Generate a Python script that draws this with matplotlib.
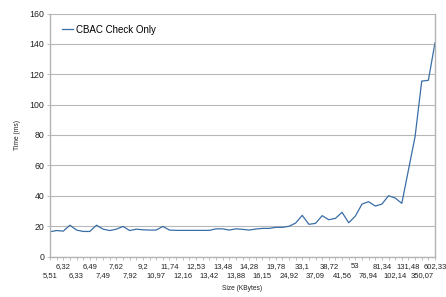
import matplotlib
matplotlib.use("Agg")
import matplotlib.pyplot as plt
from matplotlib import transforms

# Data
size_labels = ["5,51", "6,32", "6,33", "6,49", "7,49", "7,62", "7,92", "9,2", "10,97", "11,74",
               "12,16", "12,53", "13,42", "13,48", "13,88", "14,28", "16,15", "19,78", "24,92", "33,1",
               "37,09", "38,72", "41,56", "53", "76,94", "81,34", "102,14", "131,48", "350,07", "602,33"]
time_ms = [16.3, 17.1, 16.7, 20.6, 17.4, 16.5, 16.5, 20.6, 18.0, 17.1,
           18.0, 19.8, 17.1, 18.0, 17.6, 17.4, 17.4, 19.8, 17.4, 17.2,
           17.2, 17.2, 17.2, 17.2, 17.2, 18.2, 18.2, 17.4, 18.2, 17.9,
           17.4, 18.1, 18.5, 18.5, 19.2, 19.2, 19.9, 22.0, 27.1, 21.2,
           21.8, 26.9, 24.2, 25.1, 29.1, 22.2, 26.6, 34.5, 36.1, 33.2,
           34.5, 40.0, 38.5, 35.0, 57.0, 79.0, 115.5, 116.0, 140.7]
series_name = "CBAC Check Only"
y_ticks = [0, 20, 40, 60, 80, 100, 120, 140, 160]

plt.rcParams['font.family'] = ['Liberation Sans', 'DejaVu Sans']

fig = plt.figure(figsize=(4.46, 2.97), dpi=100)
ax = fig.add_axes([50/446, 1-256.5/297, 385/446, 243/297])

x = list(range(len(time_ms)))
ax.plot(x, time_ms, color='#3a6ea5', lw=0.9, label=series_name)

ax.set_xlim(0, len(time_ms) - 1)
ax.set_ylim(0, 160)
ax.set_yticks(y_ticks)
ax.set_yticklabels([str(v) for v in y_ticks], fontsize=6.3, color='#222222')
ax.yaxis.grid(True, color='#b8b8b8', lw=0.8)
ax.set_axisbelow(True)

major = list(range(0, len(time_ms), 2))[:len(size_labels)]
ax.set_xticks(x)
ax.set_xticklabels([])

# staggered category labels, two rows (baseline-aligned)
row_upper = transforms.offset_copy(ax.get_xaxis_transform(), fig=fig, y=-8.3, units='points')
row_lower = transforms.offset_copy(ax.get_xaxis_transform(), fig=fig, y=-15.1, units='points')
for i, (pos, s) in enumerate(zip(major, size_labels)):
    ax.text(pos, 0, s, transform=row_lower if i % 2 == 0 else row_upper,
            ha='center', va='baseline', fontsize=5.5, color='#222222', clip_on=False)

ax.tick_params(axis='x', which='both', length=2.5, width=0.6, color='#b3b3b3', pad=1.5)
ax.tick_params(axis='y', length=2.5, width=0.6, color='#b3b3b3', pad=1.5)

for side in ['left', 'bottom', 'right']:
    ax.spines[side].set_color('#b3b3b3')
    ax.spines[side].set_linewidth(1.0)
ax.spines['top'].set_visible(False)

ax.set_xlabel("Size (KBytes)", fontsize=4.8, color='#222222', labelpad=16.5)
ax.set_ylabel("Time (ms)", fontsize=4.8, color='#222222', labelpad=6)

leg = ax.legend(loc='upper left', bbox_to_anchor=(0.02, 0.97), frameon=False,
                fontsize=7, handlelength=1.2, handletextpad=0.3, borderaxespad=0)

fig.savefig("out.png", dpi=100)
